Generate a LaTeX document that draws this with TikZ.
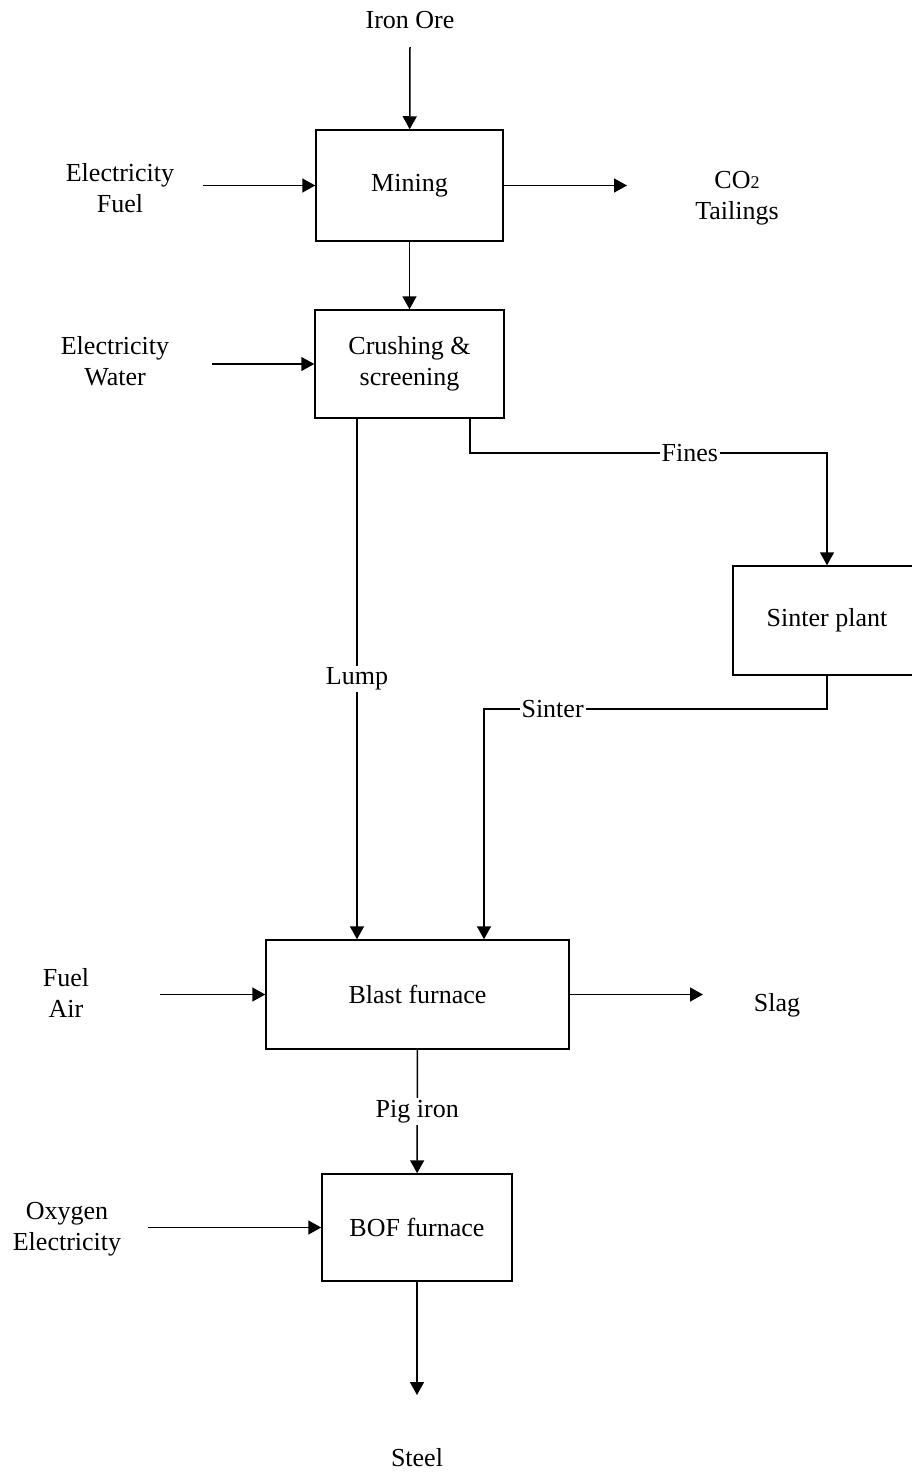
\documentclass[tikz,border=0pt]{standalone}
\usepackage{fontspec}
\setmainfont{Liberation Serif}
\usetikzlibrary{arrows.meta}
\usetikzlibrary{positioning}

\begin{document}
\begin{tikzpicture}[x=0.5pt,y=-0.5pt,
    every node/.style={font=\fontsize{13}{15.5}\selectfont, align=center},
    caixa/.style={draw, line width=0.75pt, inner sep=0pt},
    fluxo/.style={line width=0.75pt, -{Triangle[length=6.5pt,width=7pt]}},
    rotulo/.style={fill=white, inner sep=1pt}]

    \useasboundingbox (0,0) rectangle (911,1478);

    % Caixas do processo
    \node[caixa, minimum width=93.5pt, minimum height=55.5pt] (mining) at (409.5,185.5) {Mining};
    \node[caixa, minimum width=94.5pt, minimum height=54pt] (crush) at (409.5,364) {Crushing \&\\screening};
    \node[caixa, minimum width=94pt, minimum height=54.5pt] (sinter) at (827,620.5) {Sinter plant};
    \node[caixa, minimum width=151.5pt, minimum height=54.5pt] (blast) at (417.5,994.5) {Blast furnace};
    \node[caixa, minimum width=95pt, minimum height=53.5pt] (bof) at (417,1227.5) {BOF furnace};

    % Entradas e saidas
    \node (ore) at (410,20) {Iron Ore};
    \node (in1) at (120,188) {Electricity\\Fuel};
    \node (out1) at (737,198) {CO{\fontsize{9}{9}\selectfont 2}\\Tailings};
    \node (in2) at (115,361) {Electricity\\Water};
    \node (in3) at (66,993) {Fuel\\Air};
    \node (slag) at (777,1005) {Slag};
    \node (in4) at (67,1229) {Oxygen\\Electricity};
    \node (steel) at (417,1458) {Steel};

    % Pontas livres das setas
    \coordinate (a0) at (410,47);
    \coordinate (a1) at (203,185.5);
    \coordinate (a2) at (627,185.5);
    \coordinate (a3) at (212,364);
    \coordinate (a4) at (160,994.5);
    \coordinate (a5) at (703,994.5);
    \coordinate (a6) at (148,1227.5);
    \coordinate (a7) at (417,1395);

    % Cantos das linhas
    \coordinate (f1) at (470,453);
    \coordinate (f2) at (827,453);
    \coordinate (s1) at (827,709);
    \coordinate (s2) at (484,709);
    \coordinate (l0) at (357,0);

    % Setas
    \draw[fluxo] (a0) -- (mining);
    \draw[fluxo] (a1) -- (mining.west);
    \draw[fluxo] (mining.east) -- (a2);
    \draw[fluxo] (mining) -- (crush);
    \draw[fluxo] (a3) -- (crush.west);
    \draw[fluxo] (crush.south -| f1) -- (f1) -- node[rotulo, pos=0.616] {Fines} (f2) -- (sinter);
    \draw[fluxo] (sinter) -- (s1) -- node[rotulo, pos=0.8] {Sinter} (s2) -- (blast.north -| s2);
    \draw[fluxo] (crush.south -| l0) -- node[rotulo] {Lump} (blast.north -| l0);
    \draw[fluxo] (a4) -- (blast.west);
    \draw[fluxo] (blast.east) -- (a5);
    \draw[fluxo] (blast) -- node[rotulo] {Pig iron} (bof);
    \draw[fluxo] (a6) -- (bof.west);
    \draw[fluxo] (bof) -- (a7);
\end{tikzpicture}
\end{document}
